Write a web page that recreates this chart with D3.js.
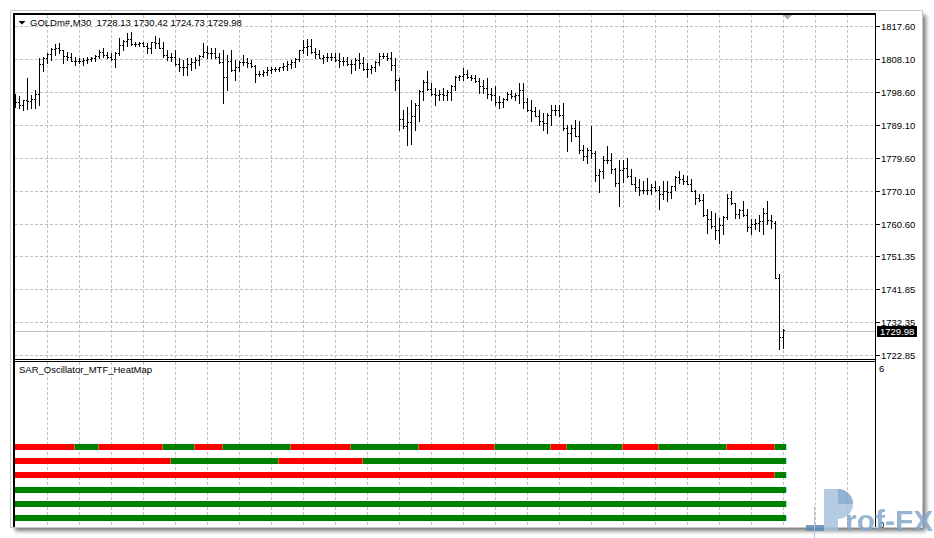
<!DOCTYPE html>
<html><head><meta charset="utf-8">
<script src="https://cdn.jsdelivr.net/npm/d3@7/dist/d3.min.js"></script>
<style>
html,body{margin:0;padding:0;background:#fff;}
svg{display:block;}
text{font-family:"Liberation Sans",Arial,sans-serif;}
</style></head><body>
<svg id="c" width="934" height="538"></svg>
<script>
// ---------------- DATA ----------------
const symbolTitle = "GOLDm#,M30  1728.13 1730.42 1724.73 1729.98";
const indicatorName = "SAR_Oscillator_MTF_HeatMap";
const priceTicks = [1817.60,1808.10,1798.60,1789.10,1779.60,1770.10,1760.60,1751.35,1741.85,1732.35,1722.85];
const priceTickLabels = ["1817.60","1808.10","1798.60","1789.10","1779.60","1770.10","1760.60","1751.35","1741.85","1732.35","1722.85"];
const bidPrice = 1729.98;
const bidLabel = "1729.98";
const opens = [1796.4,1795.6,1794.9,1796.4,1795.9,1796.6,1798.1,1806.6,1808.3,1809.5,1810.9,1811.2,1810.7,1809.1,1808.6,1807.6,1807.6,1807.4,1807.8,1808.1,
1808.3,1809.0,1810.0,1809.3,1808.8,1808.1,1809.8,1812.2,1813.4,1814.0,1812.4,1812.4,1812.6,1811.9,1811.4,1813.0,1812.6,1811.3,1809.3,1808.6,
1808.6,1806.7,1805.7,1805.9,1806.6,1807.1,1807.9,1809.0,1810.0,1809.8,1809.8,1808.7,1807.3,1803.0,1807.6,1805.0,1805.9,1807.3,1807.1,1806.9,
1806.1,1803.8,1803.8,1804.4,1805.0,1805.2,1805.2,1805.8,1806.2,1806.6,1807.1,1808.2,1810.6,1811.6,1811.8,1810.1,1809.5,1808.4,1808.6,1808.8,
1808.6,1807.9,1807.6,1807.6,1806.7,1806.6,1807.7,1806.9,1805.3,1805.3,1805.8,1807.3,1809.0,1808.9,1808.4,1806.4,1802.1,1790.9,1788.9,1790.0,
1791.6,1794.8,1798.9,1801.5,1799.5,1798.1,1797.8,1798.0,1797.8,1798.5,1800.4,1802.8,1803.2,1803.8,1802.8,1802.6,1801.8,1800.2,1799.7,1798.0,
1797.6,1795.6,1795.6,1796.6,1798.0,1797.3,1797.8,1799.2,1795.8,1793.3,1793.0,1791.8,1790.1,1789.7,1792.1,1793.5,1793.3,1792.1,1788.3,1786.8,
1788.2,1786.0,1782.0,1780.3,1782.0,1781.1,1774.8,1775.7,1779.1,1779.1,1776.3,1772.4,1776.0,1776.8,1774.5,1772.2,1771.1,1770.5,1770.5,1770.5,
1771.1,1770.5,1769.1,1770.0,1769.8,1771.4,1774.0,1773.4,1773.1,1772.2,1770.2,1768.1,1767.4,1763.3,1761.9,1760.0,1758.8,1760.2,1762.5,1768.1,
1766.5,1763.6,1764.5,1763.3,1759.8,1760.5,1761.0,1761.3,1763.8,1761.6,1761.0,1745.0,1728.13];
const highs = [1798.0,1797.3,1796.4,1802.6,1797.8,1799.2,1808.3,1808.6,1809.8,1811.2,1812.4,1812.6,1810.7,1810.2,1809.8,1808.8,1808.3,1808.3,1808.6,1808.8,
1809.3,1810.7,1811.2,1810.2,1809.8,1810.2,1814.1,1813.6,1815.7,1815.8,1813.1,1813.1,1813.1,1812.6,1813.1,1814.7,1814.1,1813.1,1810.7,1809.8,
1810.7,1808.3,1807.9,1808.3,1808.3,1808.8,1809.3,1812.6,1811.7,1811.2,1811.2,1809.8,1810.7,1809.3,1810.7,1807.9,1807.4,1809.3,1808.3,1807.9,
1806.4,1804.5,1805.0,1805.9,1805.9,1805.9,1805.9,1806.9,1807.4,1807.9,1808.3,1810.7,1813.6,1813.8,1813.8,1811.2,1810.7,1809.3,1809.8,1809.8,
1809.9,1809.8,1808.8,1808.8,1807.9,1808.3,1809.9,1808.8,1806.9,1806.4,1807.4,1809.8,1809.9,1809.9,1810.2,1808.3,1802.6,1793.5,1794.3,1796.4,
1795.5,1799.2,1802.1,1804.5,1801.2,1799.7,1799.2,1799.7,1799.2,1800.7,1803.1,1803.5,1805.5,1805.0,1803.5,1803.5,1802.6,1802.1,1802.6,1799.7,
1800.2,1797.3,1796.9,1798.7,1799.2,1798.3,1801.2,1801.2,1796.9,1796.4,1794.4,1793.5,1792.5,1792.5,1794.9,1794.9,1794.9,1795.4,1789.2,1789.2,
1790.6,1790.1,1783.4,1782.5,1788.7,1781.5,1776.3,1780.1,1783.0,1781.1,1776.8,1779.1,1779.1,1779.7,1776.3,1774.0,1773.4,1772.9,1773.9,1772.0,
1772.9,1771.5,1772.9,1772.9,1771.5,1774.3,1775.8,1774.8,1774.3,1773.4,1770.5,1769.1,1769.1,1764.8,1764.3,1763.8,1762.4,1762.9,1769.1,1770.0,
1766.7,1764.8,1767.2,1764.8,1761.9,1761.9,1763.3,1765.3,1767.2,1763.3,1761.4,1746.1,1730.42];
const lows = [1794.3,1794.0,1793.5,1793.7,1794.0,1794.0,1794.9,1804.5,1806.9,1807.9,1809.3,1809.8,1806.9,1807.9,1807.4,1806.4,1806.9,1806.4,1806.9,1807.4,
1807.4,1808.3,1808.8,1808.3,1807.9,1805.9,1809.3,1810.7,1811.7,1812.2,1811.7,1811.7,1811.7,1809.8,1809.8,1811.2,1811.2,1808.8,1807.9,1807.4,
1806.4,1804.5,1803.5,1803.5,1805.0,1805.5,1806.4,1808.8,1808.3,1808.3,1808.3,1806.9,1795.4,1799.2,1804.5,1802.1,1804.5,1806.4,1805.9,1805.9,
1801.6,1803.1,1803.1,1803.5,1804.0,1804.5,1804.5,1805.0,1805.0,1805.5,1805.9,1807.4,1809.8,1809.3,1809.8,1808.3,1808.3,1806.9,1807.4,1807.9,
1807.4,1805.9,1806.4,1806.4,1804.2,1805.0,1805.5,1805.0,1802.9,1804.2,1804.5,1806.4,1808.3,1807.9,1805.0,1799.2,1787.7,1788.3,1783.2,1783.7,
1787.7,1790.3,1796.4,1799.2,1797.8,1794.9,1796.4,1796.4,1796.4,1796.4,1799.2,1802.1,1802.1,1802.6,1802.1,1801.6,1798.3,1798.3,1796.9,1796.4,
1794.9,1794.0,1794.4,1796.4,1796.9,1796.4,1795.4,1794.0,1793.0,1790.1,1791.6,1789.2,1787.7,1786.8,1789.2,1792.1,1791.6,1787.7,1781.5,1784.4,
1785.8,1781.1,1779.1,1778.2,1779.6,1772.9,1769.7,1773.9,1778.2,1775.3,1771.5,1765.7,1772.8,1774.0,1772.0,1770.0,1768.8,1769.6,1769.1,1769.1,
1770.0,1764.8,1767.7,1767.2,1768.1,1770.5,1772.4,1772.0,1772.0,1770.0,1766.2,1767.2,1762.9,1758.1,1759.5,1756.2,1755.2,1757.6,1761.9,1766.2,
1762.4,1762.4,1762.9,1758.5,1757.6,1759.1,1758.5,1757.6,1760.5,1759.5,1745.0,1724.6,1724.73];
const closes = [1795.6,1794.9,1796.4,1795.9,1796.6,1798.1,1806.6,1808.3,1809.5,1810.9,1811.2,1810.7,1809.1,1808.6,1807.6,1807.6,1807.4,1807.8,1808.1,1808.3,
1809.0,1810.0,1809.3,1808.8,1808.1,1809.8,1812.2,1813.4,1814.0,1812.4,1812.4,1812.6,1811.9,1811.4,1813.0,1812.6,1811.3,1809.3,1808.6,1808.6,
1806.7,1805.7,1805.9,1806.6,1807.1,1807.9,1809.0,1810.0,1809.8,1809.8,1808.7,1807.3,1803.0,1807.6,1805.0,1805.9,1807.3,1807.1,1806.9,1806.1,
1803.8,1803.8,1804.4,1805.0,1805.2,1805.2,1805.8,1806.2,1806.6,1807.1,1808.2,1810.6,1811.6,1811.8,1810.1,1809.5,1808.4,1808.6,1808.8,1808.6,
1807.9,1807.6,1807.6,1806.7,1806.6,1807.7,1806.9,1805.3,1805.3,1805.8,1807.3,1809.0,1808.9,1808.4,1806.4,1802.1,1790.9,1788.9,1790.0,1791.6,
1794.8,1798.9,1801.5,1799.5,1798.1,1797.8,1798.0,1797.8,1798.5,1800.4,1802.8,1803.2,1803.8,1802.8,1802.6,1801.8,1800.2,1799.7,1798.0,1797.6,
1795.6,1795.6,1796.6,1798.0,1797.3,1797.8,1799.2,1795.8,1793.3,1793.0,1791.8,1790.1,1789.7,1792.1,1793.5,1793.3,1792.1,1788.3,1786.8,1788.2,
1786.0,1782.0,1780.3,1782.0,1781.1,1774.8,1775.7,1779.1,1779.1,1776.3,1772.4,1776.0,1776.8,1774.5,1772.2,1771.1,1770.5,1770.5,1770.5,1771.1,
1770.5,1769.1,1770.0,1769.8,1771.4,1774.0,1773.4,1773.1,1772.2,1770.2,1768.1,1767.4,1763.3,1761.9,1760.0,1758.8,1760.2,1762.5,1768.1,1766.5,
1763.6,1764.5,1763.3,1759.8,1760.5,1761.0,1761.3,1763.8,1761.6,1761.3,1745.0,1728.13,1729.98];

// heat-map rows (one per timeframe), run-length encoded: [state, number of bars]
const heatRows = ["M30","H1","H4","D1","W1","MN1"];
const heatLevels = [3.0,2.5,2.0,1.5,1.0,0.5];
const heatRuns = [
  [["S",15],["B",6],["S",16],["B",8],["S",7],["B",17],["S",15],["B",17],["S",19],["B",14],["S",4],["B",14],["S",9],["B",17],["S",12],["B",3]],
  [["S",39],["B",27],["S",21],["B",106]],
  [["S",190],["B",3]],
  [["B",193]],
  [["B",193]],
  [["B",193]]
];
const heatColors = {B:"#008000", S:"#ff0000"};
const subTicks = [6, 0];

// ---------------- LAYOUT ----------------
const W = 934, H = 538;
const L = 15, R = 875, mainTop = 15, mainBot = 359, subTop = 362, subBot = 527;
const svg = d3.select("#c");
const defs = svg.append("defs");
defs.append("filter").attr("id","sh").attr("x","-5%").attr("y","-5%").attr("width","110%").attr("height","110%")
  .append("feGaussianBlur").attr("stdDeviation",2.2);
defs.append("clipPath").attr("id","mainClip").append("rect").attr("x",L).attr("y",mainTop).attr("width",R-L).attr("height",mainBot-mainTop);
defs.append("clipPath").attr("id","subClip").append("rect").attr("x",L).attr("y",subTop).attr("width",786-L).attr("height",subBot-subTop);

// window with shadow
svg.append("rect").attr("x",15).attr("y",15).attr("width",911).attr("height",516).attr("fill","#7a7a7a").attr("filter","url(#sh)");
svg.append("rect").attr("x",11).attr("y",11).attr("width",911).attr("height",516).attr("fill","#fff");
svg.append("rect").attr("x",10.5).attr("y",10.5).attr("width",912).attr("height",517).attr("fill","none").attr("stroke","#c8c8c8");

const n = opens.length;
const x = d3.scaleLinear().domain([0, n-1]).range([15.33, 783.33]);
const y = d3.scaleLinear().domain([1722.85, 1817.60]).range([355.5, 26.5]);
const yHeat = d3.scaleLinear().domain([0, 6]).range([532.2, 361.8]);

// grid
const grid = svg.append("g").attr("stroke","#c0c0c0").attr("stroke-dasharray","3,2").attr("shape-rendering","crispEdges");
const vIdx = d3.range(8, 209, 8);
grid.selectAll("line.v1").data(vIdx).join("line")
  .attr("x1",d=>Math.round(x(d))+0.5).attr("x2",d=>Math.round(x(d))+0.5).attr("y1",mainTop).attr("y2",mainBot);
grid.selectAll("line.v2").data(vIdx).join("line")
  .attr("x1",d=>Math.round(x(d))+0.5).attr("x2",d=>Math.round(x(d))+0.5).attr("y1",subTop).attr("y2",subBot);
grid.selectAll("line.h").data(priceTicks).join("line")
  .attr("x1",L).attr("x2",R).attr("y1",d=>Math.floor(y(d))+0.5).attr("y2",d=>Math.floor(y(d))+0.5);

// bid line
svg.append("line").attr("x1",L).attr("x2",R).attr("y1",Math.round(y(bidPrice))+0.5).attr("y2",Math.round(y(bidPrice))+0.5)
  .attr("stroke","#c0c0c0").attr("shape-rendering","crispEdges");

// OHLC bars
const bars = d3.range(n).map(i=>({i, o:opens[i], h:highs[i], l:lows[i], c:closes[i]}));
const gb = svg.append("g").attr("clip-path","url(#mainClip)").attr("fill","#000").attr("shape-rendering","crispEdges");
gb.selectAll("rect.hl").data(bars).join("rect")
  .attr("x",d=>Math.round(x(d.i))).attr("width",1)
  .attr("y",d=>Math.floor(y(d.h)))
  .attr("height",d=>Math.max(1, Math.floor(y(d.l))-Math.floor(y(d.h))+1));
gb.selectAll("rect.o").data(bars).join("rect")
  .attr("x",d=>Math.round(x(d.i))-1).attr("width",1).attr("y",d=>Math.floor(y(d.o))).attr("height",1);
gb.selectAll("rect.c").data(bars).join("rect")
  .attr("x",d=>Math.round(x(d.i))+1).attr("width",1).attr("y",d=>Math.floor(y(d.c))).attr("height",1);

// heat map
const gh = svg.append("g").attr("clip-path","url(#subClip)").attr("shape-rendering","crispEdges");
heatRuns.forEach((runs, r)=>{
  let s = 0;
  const segs = runs.map(([st,len])=>{ const seg={st, s, e:s+len}; s+=len; return seg; });
  const cy = Math.round(yHeat(heatLevels[r]));
  gh.selectAll(null).data(segs).join("rect")
    .attr("x",d=>Math.round(x(d.s)))
    .attr("width",d=>Math.round(x(d.e))-Math.round(x(d.s)))
    .attr("y",cy-3).attr("height",6).attr("fill",d=>heatColors[d.st]);
  gh.selectAll(null).data(segs.slice(1)).join("rect")
    .attr("x",d=>Math.round(x(d.s))-1).attr("width",1)
    .attr("y",cy-3).attr("height",6).attr("fill","#c87800");
  svg.append("rect").attr("x",786).attr("width",1).attr("y",cy-3).attr("height",6).attr("fill","#9fe3f7");
});

// frame lines
const fr = svg.append("g").attr("fill","#000").attr("shape-rendering","crispEdges");
fr.append("rect").attr("x",13).attr("y",13).attr("width",2).attr("height",subBot-13);
fr.append("rect").attr("x",13).attr("y",13).attr("width",R-13+1).attr("height",2);
fr.append("rect").attr("x",R).attr("y",13).attr("width",1).attr("height",subBot-13);
fr.append("rect").attr("x",13).attr("y",mainBot).attr("width",R-13).attr("height",1);
fr.append("rect").attr("x",13).attr("y",361).attr("width",R-13).attr("height",1);

// right price axis
const ax = svg.append("g");
ax.selectAll("rect").data(priceTicks).join("rect")
  .attr("x",R+1).attr("width",4).attr("y",d=>Math.floor(y(d))).attr("height",1).attr("fill","#000");
ax.selectAll("text").data(priceTicks).join("text")
  .attr("x",881).attr("y",d=>Math.floor(y(d))+4).attr("font-size","9.5px").attr("fill","#000")
  .text((d,i)=>priceTickLabels[i]);

// bid label
const by = Math.round(y(bidPrice));
svg.append("rect").attr("x",877).attr("y",by-5).attr("width",40).attr("height",11).attr("fill","#000");
svg.append("text").attr("x",880).attr("y",by+4).attr("font-size","9.5px").attr("fill","#fff").text(bidLabel);

// chart shift marker
svg.append("path").attr("d","M783,15 L792,15 L787.5,19.5 Z").attr("fill","#a8a8a8");

// title
svg.append("path").attr("d","M18.5,21 L25.5,21 L22,24.5 Z").attr("fill","#000");
svg.append("text").attr("x",30).attr("y",26).attr("font-size","9.5px").attr("fill","#000").attr("xml:space","preserve").style("white-space","pre").text(symbolTitle);

// sub-window labels
svg.append("text").attr("x",19).attr("y",373).attr("font-size","9.5px").attr("fill","#000").text(indicatorName);
svg.selectAll("text.sub").data(subTicks).join("text").attr("class","sub")
  .attr("x",879).attr("y",d=>d===6? yHeat(d)+10 : yHeat(d)-4).attr("font-size","9.5px").attr("fill","#000").text(d=>d);

// watermark logo
const lg = svg.append("g").attr("opacity",0.85);
lg.append("rect").attr("x",806).attr("y",525).attr("width",28).attr("height",6).attr("fill","#5f8cb8");
lg.append("rect").attr("x",814).attr("y",506).attr("width",1).attr("height",32).attr("fill","#a9c1d8");
lg.append("rect").attr("x",824).attr("y",489).attr("width",14).attr("height",42).attr("fill","#a7c3dc");
lg.append("path").attr("d","M838,489 A15,15 0 0 1 838,519 Z").attr("fill","#a7c3dc");
lg.append("path").attr("d","M838,489 A15,15 0 0 1 853,504 L838,504 Z").attr("fill","#7ea6ca");
lg.append("text").attr("x",845).attr("y",531).attr("font-size","30px").attr("font-weight","bold").attr("fill","#86a9cb").text("rof-FX");
</script>
</body></html>
